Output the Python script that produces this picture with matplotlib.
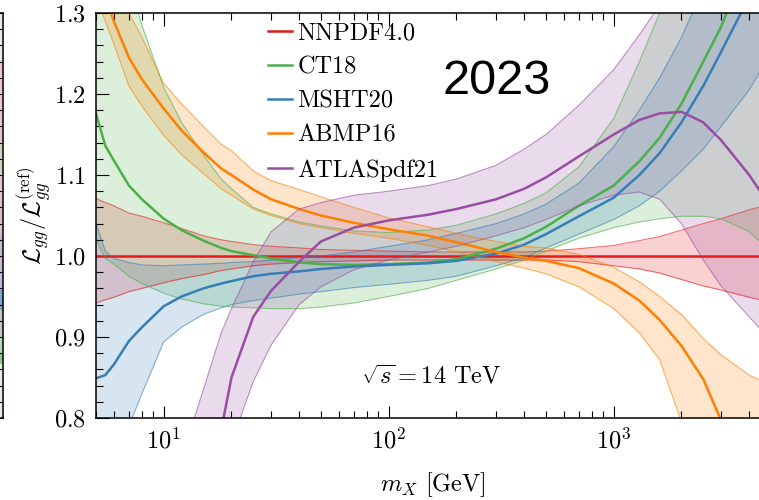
import numpy as np
import matplotlib
matplotlib.use("Agg")
import matplotlib.pyplot as plt
from matplotlib.ticker import MultipleLocator, LogLocator, NullFormatter

plt.rcParams['font.family'] = 'serif'
plt.rcParams['font.serif'] = ['cmr10']
plt.rcParams['mathtext.fontset'] = 'cm'
plt.rcParams['axes.formatter.use_mathtext'] = True

# invariant mass grid [GeV]
mx = [5, 5.5, 6, 7, 8, 10, 12, 15, 18, 20, 25, 30, 40, 50, 70, 100, 150, 200,
      300, 400, 500, 700, 1000, 1300, 1600, 2000, 2500, 3000, 4000, 5000]

nnpdf_c = [1.0] * len(mx)
nnpdf_hi = [1.071, 1.066, 1.062, 1.053, 1.049, 1.041, 1.034, 1.025, 1.020, 1.018, 1.014, 1.012,
            1.010, 1.008, 1.007, 1.006, 1.005, 1.005, 1.005, 1.005, 1.006, 1.009, 1.013, 1.019,
            1.024, 1.032, 1.040, 1.046, 1.057, 1.064]
nnpdf_lo = [0.942, 0.946, 0.949, 0.956, 0.960, 0.967, 0.972, 0.977, 0.982, 0.984, 0.988, 0.990,
            0.992, 0.993, 0.994, 0.995, 0.995, 0.995, 0.995, 0.995, 0.995, 0.993, 0.988, 0.984,
            0.979, 0.971, 0.963, 0.958, 0.949, 0.943]

ct18_c = [1.176, 1.136, 1.118, 1.087, 1.070, 1.046, 1.032, 1.019, 1.010, 1.006, 1.001, 0.997,
          0.992, 0.990, 0.989, 0.990, 0.992, 0.996, 1.009, 1.022, 1.036, 1.062, 1.087, 1.117,
          1.146, 1.188, 1.240, 1.283, 1.37, 1.45]
ct18_hi = [1.55, 1.48, 1.42, 1.34, 1.285, 1.208, 1.165, 1.125, 1.095, 1.083, 1.060, 1.052,
           1.042, 1.037, 1.031, 1.029, 1.032, 1.038, 1.052, 1.065, 1.078, 1.11, 1.17, 1.24,
           1.30, 1.38, 1.46, 1.55, 1.70, 1.85]
ct18_lo = [1.02, 0.997, 0.990, 0.975, 0.966, 0.954, 0.947, 0.941, 0.938, 0.937, 0.936, 0.935,
           0.935, 0.937, 0.942, 0.950, 0.960, 0.970, 0.984, 0.995, 1.006, 1.022, 1.035, 1.042,
           1.046, 1.049, 1.049, 1.046, 1.030, 1.005]

msht_c = [0.849, 0.853, 0.866, 0.895, 0.912, 0.938, 0.950, 0.960, 0.966, 0.969, 0.975, 0.978,
          0.981, 0.984, 0.987, 0.989, 0.991, 0.994, 1.003, 1.014, 1.027, 1.049, 1.072, 1.100,
          1.127, 1.165, 1.210, 1.252, 1.32, 1.38]
msht_hi = [1.040, 1.006, 0.997, 0.992, 0.989, 0.988, 0.989, 0.990, 0.991, 0.992, 0.993, 0.995,
           0.998, 1.000, 1.005, 1.012, 1.020, 1.028, 1.040, 1.052, 1.064, 1.090, 1.135, 1.180,
           1.220, 1.270, 1.33, 1.39, 1.50, 1.60]
msht_lo = [0.62, 0.68, 0.73, 0.79, 0.83, 0.894, 0.912, 0.928, 0.936, 0.940, 0.945, 0.948,
           0.953, 0.956, 0.961, 0.965, 0.970, 0.975, 0.988, 0.998, 1.010, 1.027, 1.045, 1.062,
           1.080, 1.105, 1.132, 1.160, 1.205, 1.25]

abmp_c = [1.35, 1.32, 1.29, 1.245, 1.218, 1.182, 1.155, 1.128, 1.108, 1.100, 1.082, 1.070,
          1.058, 1.050, 1.041, 1.033, 1.025, 1.017, 1.005, 0.998, 0.994, 0.985, 0.966, 0.945,
          0.921, 0.889, 0.848, 0.797, 0.70, 0.62]
abmp_hi = [1.39, 1.37, 1.345, 1.30, 1.27, 1.213, 1.188, 1.160, 1.138, 1.130, 1.105, 1.093,
           1.082, 1.073, 1.060, 1.047, 1.036, 1.028, 1.018, 1.012, 1.010, 1.002, 0.986, 0.968,
           0.950, 0.928, 0.898, 0.878, 0.853, 0.84]
abmp_lo = [1.32, 1.29, 1.262, 1.21, 1.185, 1.149, 1.125, 1.102, 1.083, 1.075, 1.058, 1.050,
           1.040, 1.035, 1.028, 1.022, 1.013, 1.005, 0.993, 0.985, 0.978, 0.962, 0.935, 0.905,
           0.872, 0.795, 0.72, 0.66, 0.58, 0.52]

atlas_c = [0.30, 0.35, 0.40, 0.48, 0.55, 0.62, 0.66, 0.69, 0.785, 0.85, 0.925, 0.957,
           0.993, 1.018, 1.035, 1.044, 1.051, 1.058, 1.070, 1.083, 1.097, 1.123, 1.150, 1.168,
           1.176, 1.178, 1.165, 1.143, 1.100, 1.060]
atlas_hi = [0.40, 0.45, 0.50, 0.58, 0.64, 0.70, 0.75, 0.835, 0.905, 0.935, 0.993, 1.030,
            1.058, 1.066, 1.075, 1.080, 1.087, 1.095, 1.112, 1.132, 1.150, 1.186, 1.230, 1.273,
            1.31, 1.36, 1.40, 1.42, 1.43, 1.42]
atlas_lo = [0.30, 0.33, 0.36, 0.42, 0.47, 0.55, 0.61, 0.68, 0.74, 0.77, 0.845, 0.89,
            0.940, 0.962, 0.983, 0.995, 1.005, 1.012, 1.025, 1.035, 1.045, 1.062, 1.075, 1.079,
            1.070, 1.040, 0.995, 0.963, 0.925, 0.895]

labels = ['NNPDF4.0', 'CT18', 'MSHT20', 'ABMP16', 'ATLASpdf21']
colors = ['#e41a1c', '#4daf4a', '#377eb8', '#ff7f00', '#984ea3']
centrals = [nnpdf_c, ct18_c, msht_c, abmp_c, atlas_c]
uppers = [nnpdf_hi, ct18_hi, msht_hi, abmp_hi, atlas_hi]
lowers = [nnpdf_lo, ct18_lo, msht_lo, abmp_lo, atlas_lo]

# strip of the neighbouring panel visible at the left edge
strip_edges = [1.3, 1.242, 1.18, 1.139, 1.102, 1.069, 1.028, 0.986, 0.958, 0.933, 0.908, 0.879, 0.867, 0.80]
strip_cols = ['#efe6f3', '#f1c6cf', '#e6c4c8', '#d7cfc0', '#e8c7cc', '#d6bfd0', '#c7b6d0',
              '#b8bfd2', '#7aa6d0', '#c0c6c8', '#b9d3b8', '#8cc88a', '#e2f1df']

W, H = 759, 500
fig = plt.figure(figsize=(W / 100, H / 100), dpi=100)

ax0 = fig.add_axes([-200 / W, 1 - 418 / H, 203 / W, 405 / H])
for i in range(len(strip_cols)):
    ax0.axhspan(strip_edges[i + 1], strip_edges[i], color=strip_cols[i], lw=0)
ax0.set_ylim(0.8, 1.3)
ax0.set_xlim(0, 1)
ax0.yaxis.set_major_locator(MultipleLocator(0.1))
ax0.yaxis.set_minor_locator(MultipleLocator(0.02))
ax0.tick_params(which='both', direction='in', left=False, right=True,
                labelleft=False, bottom=False, labelbottom=False, width=0.8)
ax0.tick_params(which='major', length=9)
ax0.tick_params(which='minor', length=5)
for s in ax0.spines.values():
    s.set_linewidth(1.1)

ax = fig.add_axes([96 / W, 1 - 418 / H, 675 / W, 405 / H])
for c, lo, hi, col, lab in zip(centrals, lowers, uppers, colors, labels):
    ax.fill_between(mx, lo, hi, color=col, alpha=0.2, lw=0)
    ax.plot(mx, lo, color=col, lw=0.8, alpha=0.6)
    ax.plot(mx, hi, color=col, lw=0.8, alpha=0.6)
    ax.plot(mx, c, color=col, lw=1.8, label=lab)

ax.set_xscale('log')
ax.set_xlim(5, 5000)
ax.set_ylim(0.8, 1.3)
ax.yaxis.set_major_locator(MultipleLocator(0.1))
ax.yaxis.set_minor_locator(MultipleLocator(0.02))
ax.xaxis.set_minor_locator(LogLocator(base=10, subs=np.arange(2, 10), numticks=20))
ax.xaxis.set_minor_formatter(NullFormatter())
ax.tick_params(which='both', direction='in', top=True, right=True, width=0.8, labelsize=17.5)
ax.tick_params(which='major', length=9, pad=7)
ax.tick_params(which='minor', length=5)
for s in ax.spines.values():
    s.set_linewidth(1.1)

ax.set_xlabel(r'$m_X$ [GeV]', fontsize=17.5)
ax.set_ylabel(r'$\mathcal{L}_{gg}/\mathcal{L}_{gg}^{(\rm ref)}$', fontsize=17.5)
ax.xaxis.set_label_coords(337 / 675, -52 / 405)
ax.yaxis.set_label_coords(-42 / 675, 0.5)

ax.legend(loc='upper left', bbox_to_anchor=(268 / W, 1 - 22 / H), bbox_transform=fig.transFigure,
          frameon=False, fontsize=17.5, handlelength=1.0, handletextpad=0.2,
          labelspacing=0.5, borderpad=0, borderaxespad=0)

ax.text(155, 0.851, r'$\sqrt{s}=14$ TeV', fontsize=17.5, ha='center', va='center')
ax.text(303, 1.216, '2023', fontsize=35, family='Liberation Sans', ha='center', va='center')

fig.savefig('out.png', dpi=100)
